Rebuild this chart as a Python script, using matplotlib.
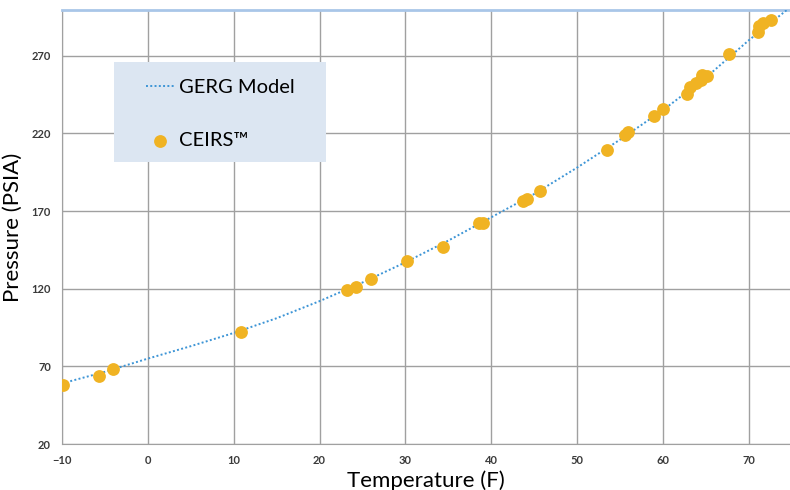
import matplotlib.pyplot as plt
from matplotlib.patches import Rectangle

# GERG model curve, every 5 F
model_temp = [-10, -5, 0, 5, 10, 15, 20, 25, 30, 35, 40, 45, 50, 55, 60, 65, 70, 75]
model_press = [59, 66.5, 75, 83, 91.5, 101, 112, 124, 137, 151, 166, 181, 198, 216, 235, 256, 280, 302]

# CEIRS measured points
ceirs_temp = [-9.85, -5.7, -4.1, 10.8, 23.2, 24.3, 26.0, 30.2, 34.4, 38.6, 39.0,
              43.7, 44.2, 45.7, 53.5, 55.6, 55.9, 58.9, 60.0, 62.8, 63.2, 63.8,
              64.4, 64.6, 65.1, 67.7, 71.1, 71.2, 71.7, 72.6]
ceirs_press = [58, 64, 68.3, 92.4, 119.2, 121, 126.3, 137.9, 147.1, 162.2, 162.4,
               176.5, 178, 183.2, 209.4, 219, 221, 231, 235.6, 245.5, 249.8, 252.4,
               254.5, 257.8, 257, 271.3, 285.6, 289.3, 291, 293.2]

x_ticks = [-10, 0, 10, 20, 30, 40, 50, 60, 70]
y_ticks = [20, 70, 120, 170, 220, 270]

plt.rcParams['font.family'] = ['Lato', 'DejaVu Sans']

fig = plt.figure(figsize=(7.9, 4.9), dpi=100)
ax = fig.add_axes([62 / 790, 46 / 490, 728 / 790, 434 / 490])

ax.plot(model_temp, model_press, linestyle=(0, (1, 1.2)), color='#3d95d6',
        lw=1.4, label='GERG Model', zorder=3)
ax.scatter(ceirs_temp, ceirs_press, s=85, color='#f0b323', label='CEIRS™',
           zorder=4, linewidths=0)

ax.set_xlim(-10, 74.8)
ax.set_ylim(20, 299.5)
ax.set_xticks(x_ticks)
ax.set_yticks(y_ticks)
ax.grid(True, color='#a0a0a0', lw=1)
ax.set_axisbelow(True)
ax.tick_params(length=0, labelsize=8, labelcolor='#3a3a3a', pad=8)
for lab in ax.get_xticklabels() + ax.get_yticklabels():
    lab.set_fontweight('bold')

ax.spines['right'].set_visible(False)
ax.spines['top'].set_color('#a9c6e8')
ax.spines['top'].set_linewidth(2)
ax.spines['left'].set_color('#a0a0a0')
ax.spines['bottom'].set_color('#a0a0a0')

ax.set_xlabel('Temperature (F)', fontsize=16, labelpad=3)
ax.set_ylabel('Pressure (PSIA)', fontsize=16, labelpad=6)

# legend background box
ax.add_patch(Rectangle((0.0714, 0.65), 0.2912, 0.23, transform=ax.transAxes,
                       facecolor='#dce6f2', edgecolor='none', zorder=5))
leg = ax.legend(loc='upper left', bbox_to_anchor=(0.09, 0.884), frameon=False,
                fontsize=14.5, labelspacing=1.8, handlelength=1.4, handletextpad=0.25,
                markerscale=1.0)
leg.set_zorder(6)

fig.savefig('out.png', dpi=100)
